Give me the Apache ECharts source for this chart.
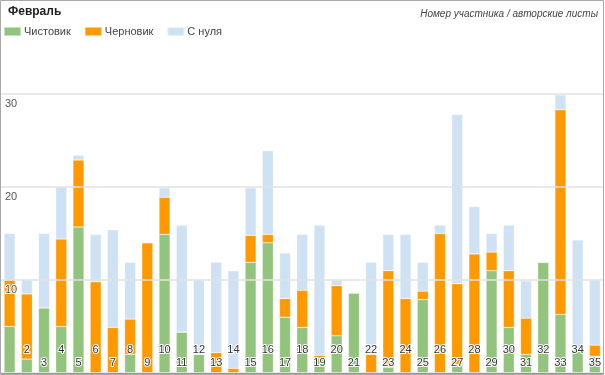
<!DOCTYPE html>
<html>
<head>
<meta charset="utf-8">
<script src="https://cdn.jsdelivr.net/npm/echarts@6/dist/echarts.min.js"></script>
<style>
  html, body { margin: 0; padding: 0; background: #fff; }
  #chart { width: 605px; height: 375px; }
</style>
</head>
<body>
<div id="chart"></div>
<script>
// participant numbers
const participants = ["1", "2", "3", "4", "5", "6", "7", "8", "9", "10", "11", "12", "13", "14", "15", "16", "17", "18",
  "19", "20", "21", "22", "23", "24", "25", "26", "27", "28", "29", "30", "31", "32", "33", "34", "35"];

// author's sheets per participant
const clean = [5, 1.5, 7, 5, 15.7, 0, 0, 2, 0, 14.9, 4.4, 2, 0, 0, 11.9, 14, 6, 4.9, 1.6, 4, 8.6, 0, 0.6, 0, 7.9, 0, 0.9, 0, 11, 4.9, 2, 11.9, 6.3, 2.3, 1.8];
const draft = [5, 7, 0, 9.4, 7.2, 9.8, 4.9, 3.8, 14, 4, 0, 0, 2.2, 0.5, 2.9, 0.9, 2, 4, 0.3, 5.4, 0, 2, 10.4, 8, 0.9, 15, 8.7, 12.8, 2, 6.1, 3.9, 0, 22, 0, 1.2];
const scratch = [5, 1.5, 8, 5.6, 0.5, 5.1, 10.5, 6.1, 0, 1, 11.5, 8, 9.7, 10.5, 5.1, 9, 4.9, 6, 14, 0.6, 0, 9.9, 3.9, 6.9, 3.1, 0.9, 18.2, 5.1, 2, 4.9, 4, 0, 1.6, 12, 7];

const yTicks = { min: 0, max: 30, interval: 10 };

const seriesDefs = [
  { name: "Чистовик", data: clean, color: "#93c47d" },
  { name: "Черновик", data: draft, color: "#ff9900" },
  { name: "С нуля", data: scratch, color: "#cfe2f3" }
];

const chart = echarts.init(document.getElementById("chart"));

chart.setOption({
  animation: false,
  textStyle: { fontFamily: "Liberation Sans, Arial, sans-serif" },
  title: [
    {
      text: "Февраль",
      left: 8,
      top: 6,
      padding: 0,
      textStyle: { fontSize: 12, fontWeight: "bold", color: "#222" }
    },
    {
      text: "Номер участника / авторские листы",
      right: 7,
      top: 9,
      padding: 0,
      textStyle: { fontSize: 10, fontWeight: "normal", fontStyle: "italic", color: "#444" }
    }
  ],
  legend: {
    left: 3,
    top: 26,
    padding: 0,
    itemWidth: 17,
    itemHeight: 9,
    itemGap: 13,
    icon: "rect",
    textStyle: { fontSize: 11, color: "#444", padding: [0, 0, 0, -2] },
    data: seriesDefs.map((s) => s.name)
  },
  grid: { left: 1, right: 1, top: 94, bottom: 2 },
  xAxis: {
    type: "category",
    data: participants,
    z: 10,
    axisTick: { show: false },
    axisLine: { lineStyle: { color: "#999", width: 1 } },
    axisLabel: {
      inside: true,
      interval: 0,
      margin: 5,
      formatter: (value, index) => {
        if (index === 0) return "";
        return index % 2 === 1 ? `{e|${value}}` : `{o|${value}}`;
      },
      rich: {
        e: { fontSize: 11, color: "#333", textBorderColor: "#fff", textBorderWidth: 2, padding: [0, 0, 13, 0] },
        o: { fontSize: 11, color: "#333", textBorderColor: "#fff", textBorderWidth: 2 }
      }
    }
  },
  yAxis: {
    type: "value",
    min: yTicks.min,
    max: yTicks.max,
    interval: yTicks.interval,
    z: 10,
    axisLine: { show: false },
    axisTick: { show: false },
    splitLine: { z: 0, lineStyle: { color: "#e2e2e2", width: 1.5 } },
    axisLabel: {
      inside: true,
      showMinLabel: false,
      margin: 4,
      verticalAlign: "top",
      padding: [4, 0, 0, 0],
      fontSize: 11,
      color: "#555",
      textBorderColor: "#fff",
      textBorderWidth: 2
    }
  },
  series: seriesDefs.map((s) => ({
    type: "bar",
    name: s.name,
    stack: "total",
    data: s.data,
    barWidth: "64%",
    itemStyle: { color: s.color, borderColor: "rgba(255,255,255,0.5)", borderWidth: 0.5 }
  })),
  graphic: [
    {
      type: "rect",
      shape: { x: 0.5, y: 0.5, width: 603, height: 374 },
      style: { fill: null, stroke: "#aaa", lineWidth: 1 },
      silent: true,
      z: 100
    }
  ]
});
</script>
</body>
</html>
